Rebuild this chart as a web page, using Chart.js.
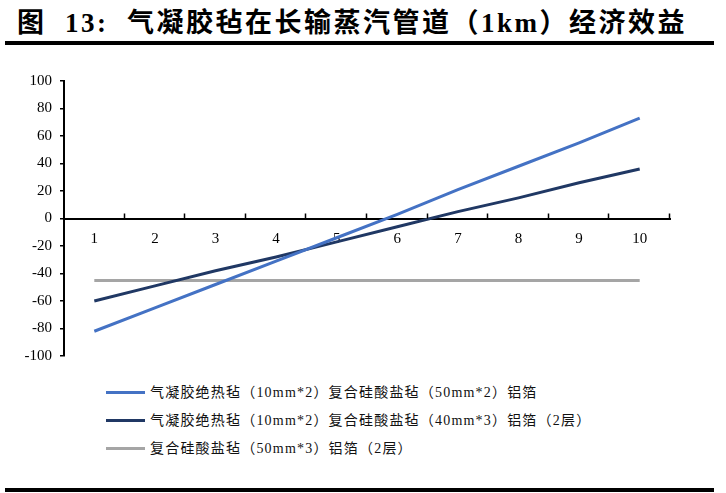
<!DOCTYPE html>
<html lang="zh">
<head>
<meta charset="UTF-8">
<title>气凝胶毡在长输蒸汽管道（1km）经济效益</title>
<script src="https://cdn.jsdelivr.net/npm/chart.js"></script>
<style>
    html, body {
        margin: 0;
        padding: 0;
        background: #fff;
    }
    body {
        width: 726px;
        height: 493px;
        position: relative;
        overflow: hidden;
        font-family: "Liberation Serif", "Noto Sans CJK SC", serif;
    }
    .title {
        position: absolute;
        left: 17px;
        top: 1px;
        font-size: 27px;
        font-weight: bold;
        letter-spacing: 2.5px;
        white-space: nowrap;
    }
    .rule {
        position: absolute;
        left: 5px;
        width: 709px;
        height: 4px;
        background: #000;
    }
    .chart-box {
        position: absolute;
        left: 0;
        top: 50px;
        width: 726px;
        height: 330px;
    }
    .legend {
        position: absolute;
        left: 106px;
        top: 381px;
        font-size: 14px;
        letter-spacing: 1.2px;
        color: #111;
    }
    .legend .item {
        height: 28px;
        line-height: 24px;
        white-space: nowrap;
    }
    .legend .swatch {
        display: inline-block;
        width: 39px;
        height: 3px;
        vertical-align: middle;
        margin-right: 5px;
        position: relative;
        top: -1px;
    }
</style>
</head>
<body>
    <div class="title">图&nbsp; 13:&nbsp; 气凝胶毡在长输蒸汽管道（1km）经济效益</div>
    <div class="rule" style="top:41px"></div>
    <div class="chart-box"><canvas id="benefitChart"></canvas></div>
    <div class="legend" id="legend"></div>
    <div class="rule" style="top:488px"></div>

<script>
    // years 1..10
    const categories = ['1', '2', '3', '4', '5', '6', '7', '8', '9', '10'];
    const seriesNames = [
        '气凝胶绝热毡（10mm*2）复合硅酸盐毡（50mm*2）铝箔',
        '气凝胶绝热毡（10mm*2）复合硅酸盐毡（40mm*3）铝箔（2层）',
        '复合硅酸盐毡（50mm*3）铝箔（2层）'
    ];
    const aerogel50x2 = [-82, -65, -48, -31, -14, 3, 21, 38, 55, 73];
    const aerogel40x3 = [-60, -49, -38, -28, -17, -6, 5, 15, 26, 36];
    const silicate50x3 = [-45, -45, -45, -45, -45, -45, -45, -45, -45, -45];
    const yTicks = [-100, -80, -60, -40, -20, 0, 20, 40, 60, 80, 100];

    const seriesValues = [aerogel50x2, aerogel40x3, silicate50x3];
    const seriesColors = ['#4472C4', '#203864', '#A5A5A5'];

    // small up-pointing ticks on the category boundaries of the zero axis
    const xAxisTicks = {
        id: 'xAxisTicks',
        afterDraw(chart) {
            const x = chart.scales.x;
            const y0 = chart.scales.y.getPixelForValue(0);
            const step = (x.right - x.left) / categories.length;
            const ctx = chart.ctx;
            ctx.save();
            ctx.strokeStyle = '#000';
            ctx.lineWidth = 1.5;
            ctx.beginPath();
            for (let i = 1; i <= categories.length; i++) {
                const px = Math.round(x.left + i * step) - 0.5;
                ctx.moveTo(px, y0);
                ctx.lineTo(px, y0 - 5);
            }
            ctx.stroke();
            ctx.restore();
        }
    };

    new Chart(document.getElementById('benefitChart'), {
        type: 'line',
        data: {
            labels: categories,
            datasets: seriesNames.map((name, i) => ({
                label: name,
                data: seriesValues[i],
                borderColor: seriesColors[i],
                backgroundColor: seriesColors[i],
                borderWidth: 3,
                pointRadius: 0,
                tension: 0
            }))
        },
        options: {
            responsive: true,
            maintainAspectRatio: false,
            animation: false,
            layout: { padding: { top: 31, right: 56, bottom: 24, left: 0 } },
            plugins: {
                legend: { display: false },
                tooltip: { enabled: false }
            },
            scales: {
                x: {
                    position: { y: 0 },
                    offset: true,
                    grid: { display: false, drawTicks: false },
                    border: { display: true, color: '#000', width: 2 },
                    ticks: {
                        color: '#000',
                        padding: 12,
                        maxRotation: 0,
                        font: { family: 'Liberation Serif', size: 15 }
                    }
                },
                y: {
                    min: -100,
                    max: 100,
                    afterBuildTicks(scale) {
                        scale.ticks = yTicks.map(v => ({ value: v }));
                    },
                    afterFit(scale) {
                        scale.width = 64;
                    },
                    grid: {
                        drawOnChartArea: false,
                        drawTicks: true,
                        tickLength: 4,
                        color: '#000',
                        lineWidth: 1.5
                    },
                    border: { display: true, color: '#000', width: 2 },
                    ticks: {
                        color: '#000',
                        padding: 8,
                        font: { family: 'Liberation Serif', size: 15 }
                    }
                }
            }
        },
        plugins: [xAxisTicks]
    });

    const legendBox = document.getElementById('legend');
    seriesNames.forEach((name, i) => {
        const item = document.createElement('div');
        item.className = 'item';
        const sw = document.createElement('span');
        sw.className = 'swatch';
        sw.style.background = seriesColors[i];
        item.appendChild(sw);
        item.appendChild(document.createTextNode(name));
        legendBox.appendChild(item);
    });
</script>
</body>
</html>
